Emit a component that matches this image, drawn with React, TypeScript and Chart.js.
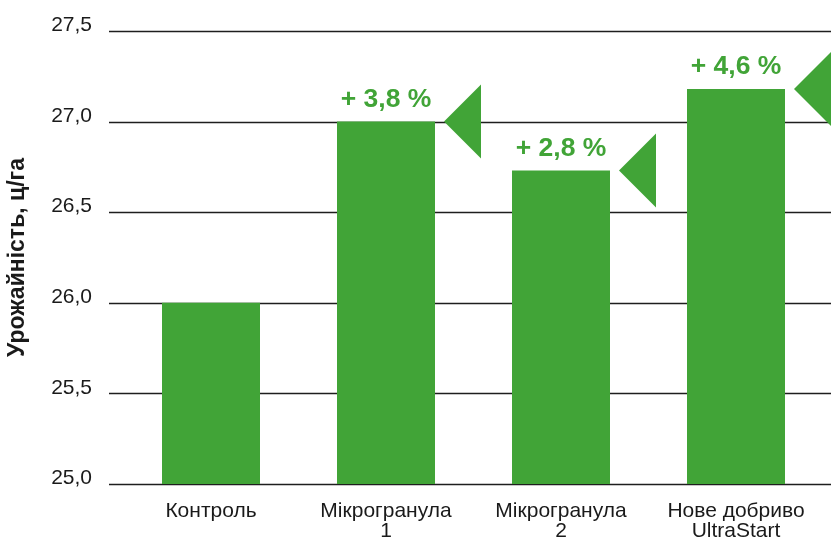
import React, { useEffect, useRef } from "react";
import { Chart, registerables } from "chart.js";

Chart.register(...registerables);

const categories: (string | string[])[] = [
  "Контроль",
  ["Мікрогранула", "1"],
  ["Мікрогранула", "2"],
  ["Нове добриво", "UltraStart"],
];
const yieldValues = [26.0, 27.0, 26.73, 27.18];
const increaseLabels = ["", "+ 3,8 %", "+ 2,8 %", "+ 4,6 %"];
const yMin = 25.0;
const yMax = 27.5;
const yStep = 0.5;

const GREEN = "#41a437";
const FONT = "'Liberation Sans', Arial, Helvetica, sans-serif";

const gridPlugin = {
  id: "extGrid",
  beforeDatasetsDraw(chart: any) {
    const { ctx } = chart;
    const y = chart.scales.y;
    ctx.save();
    ctx.strokeStyle = "#1e1e1e";
    ctx.lineWidth = 1.3;
    y.ticks.forEach((t: any) => {
      const py = Math.round(y.getPixelForValue(t.value)) + 0.5;
      ctx.beginPath();
      ctx.moveTo(109, py);
      ctx.lineTo(chart.width, py);
      ctx.stroke();
    });
    ctx.restore();
  },
};

const markerPlugin = {
  id: "markers",
  afterDatasetsDraw(chart: any) {
    const { ctx } = chart;
    const meta = chart.getDatasetMeta(0);
    ctx.save();
    meta.data.forEach((bar: any, i: number) => {
      const label = increaseLabels[i];
      if (!label) return;
      ctx.fillStyle = GREEN;
      ctx.font = `bold 26.5px ${FONT}`;
      ctx.textAlign = "center";
      ctx.textBaseline = "alphabetic";
      ctx.fillText(label, bar.x, bar.y - 15);
      const tipX = bar.x + bar.width / 2 + 9;
      ctx.beginPath();
      ctx.moveTo(tipX, bar.y);
      ctx.lineTo(tipX + 37, bar.y - 37);
      ctx.lineTo(tipX + 37, bar.y + 37);
      ctx.closePath();
      ctx.fill();
    });
    ctx.restore();
  },
};

export default function App() {
  const ref = useRef<HTMLCanvasElement | null>(null);
  useEffect(() => {
    document.body.style.margin = "0";
    const chart = new Chart(ref.current as HTMLCanvasElement, {
      type: "bar",
      data: {
        labels: categories as any,
        datasets: [
          {
            data: yieldValues,
            backgroundColor: GREEN,
            barPercentage: 0.56,
            categoryPercentage: 1,
          },
        ],
      },
      options: {
        animation: false,
        responsive: false,
        layout: { padding: { top: 31, right: 7.5, left: 0, bottom: 0 } },
        plugins: { legend: { display: false }, tooltip: { enabled: false } },
        scales: {
          x: {
            grid: { display: false, drawTicks: false },
            border: { display: false },
            ticks: {
              color: "#1a1a1a",
              font: { family: FONT, size: 21, lineHeight: 0.96 },
              padding: 17,
              maxRotation: 0,
              autoSkip: false,
            },
            afterFit(scale: any) {
              scale.height = 58;
            },
          },
          y: {
            min: yMin,
            max: yMax,
            grid: { display: false, drawTicks: false },
            border: { display: false },
            ticks: {
              stepSize: yStep,
              color: "#1a1a1a",
              font: { family: FONT, size: 21 },
              padding: 31.5,
              labelOffset: -5.5,
              callback: (v: any) => Number(v).toFixed(1).replace(".", ","),
            },
            title: {
              display: true,
              text: "Урожайність, ц/га",
              color: "#1a1a1a",
              font: { family: FONT, size: 23, weight: "bold" },
              padding: { top: 4, bottom: 0 },
            },
            afterFit(scale: any) {
              scale.width = 123.5;
              scale.paddingTop = 10;
              scale.paddingBottom = 10;
            },
          },
        },
      },
      plugins: [gridPlugin, markerPlugin],
    });
    return () => chart.destroy();
  }, []);
  return <canvas ref={ref} width={831} height={542} style={{ display: "block" }} />;
}
